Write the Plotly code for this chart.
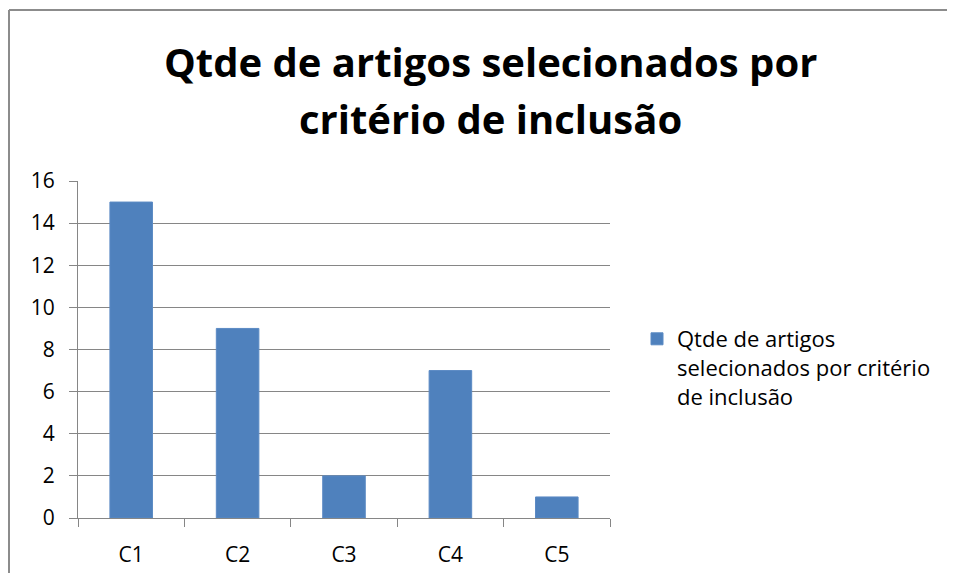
import plotly.graph_objects as go

categories = ["C1", "C2", "C3", "C4", "C5"]
values = [15, 9, 2, 7, 1]
series_name = "Qtde de artigos<br>selecionados por critério<br>de inclusão"
title_lines = ["Qtde de artigos selecionados por", "critério de inclusão"]
y_ticks = [0, 2, 4, 6, 8, 10, 12, 14, 16]

OFF = 8  # page body margin
W, H = 955 - 2 * OFF, 581 - 2 * OFF
# target page pixel positions of the plot area
X0, X1, Y0, Y1 = 78, 610, 181, 518
L, R, T, B = X0 - OFF, W - (X1 - OFF), Y0 - OFF, H - (Y1 - OFF)
pw, ph = W - L - R, H - T - B

def px(x):
    return (x - OFF - L) / pw

def py(y):
    return (H - B - (y - OFF)) / ph

fig = go.Figure()
fig.add_trace(go.Bar(
    x=categories, y=values, name=series_name,
    marker=dict(color="#4F81BD", line=dict(color="#5B8AC4", width=1)),
    showlegend=True,
))

grid = "#868686"
fig.update_layout(
    width=W, height=H,
    margin=dict(l=L, r=R, t=T, b=B, autoexpand=False),
    paper_bgcolor="white", plot_bgcolor="white",
    font=dict(family="Open Sans", color="#000000"),
    bargap=0.6,
    showlegend=True,
    legend=dict(
        x=px(637), y=py(318), xanchor="left", yanchor="top", valign="top",
        font=dict(size=22, color="#000000"),
        bgcolor="rgba(0,0,0,0)", itemclick=False,
    ),
    xaxis=dict(
        type="category", showgrid=False, showline=True, linecolor=grid, linewidth=1,
        ticks="outside", tickson="boundaries", ticklen=8, tickcolor=grid, automargin=False,
        tickfont=dict(size=21, color="#000000"), ticklabelstandoff=18,
    ),
    yaxis=dict(
        range=[0, 16], tickvals=y_ticks, showgrid=True, gridcolor=grid, gridwidth=1,
        showline=True, linecolor=grid, linewidth=1, zeroline=False, automargin=False,
        ticks="outside", ticklen=8, tickcolor=grid,
        tickfont=dict(size=21, color="#000000"), ticklabelstandoff=10,
    ),
    shapes=[
        dict(type="line", xref="paper", yref="paper", x0=px(9), x1=px(970), y0=py(10), y1=py(10),
             line=dict(color="#8C8C8C", width=2)),
        dict(type="line", xref="paper", yref="paper", x0=px(9), x1=px(9), y0=py(10), y1=py(600),
             line=dict(color="#8C8C8C", width=2)),
    ],
    annotations=[
        dict(text="<b>%s</b>" % title_lines[0], xref="paper", yref="paper",
             x=px(490), y=py(62), xanchor="center", yanchor="middle", showarrow=False,
             font=dict(size=40, color="#000000")),
        dict(text="<b>%s</b>" % title_lines[1], xref="paper", yref="paper",
             x=px(490), y=py(118), xanchor="center", yanchor="middle", showarrow=False,
             font=dict(size=40, color="#000000")),
    ],
)

fig.write_html("out.html")
